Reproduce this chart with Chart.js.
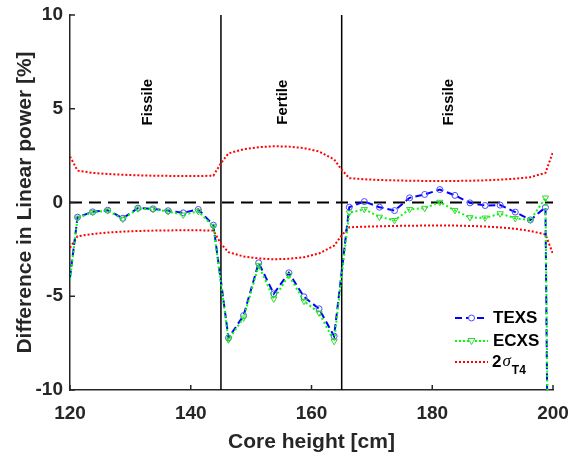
<!DOCTYPE html>
<html>
<head>
<meta charset="utf-8">
<script src="https://cdn.jsdelivr.net/npm/chart.js@4.4.1/dist/chart.umd.min.js"></script>
<style>
    html, body { margin: 0; padding: 0; background: #fff; }
</style>
</head>
<body>
<canvas id="chart" width="571" height="452"></canvas>
<script>
// node positions along the core (boundaries have no marker)
const heightCm = [120, 121.25, 123.75, 126.25, 128.75, 131.25, 133.75, 136.25, 138.75, 141.25, 143.75,
    145, 146.25, 148.75, 151.25, 153.75, 156.25, 158.75, 161.25, 163.75,
    165, 166.25, 168.75, 171.25, 173.75, 176.25, 178.75, 181.25, 183.75, 186.25, 188.75, 191.25, 193.75, 196.25, 198.75, 200];
const boundaryCm = [120, 145, 165, 200];

const texsDiff = [-4.0, -0.78, -0.50, -0.41, -0.84, -0.30, -0.34, -0.44, -0.55, -0.37, -1.21,
    -4.2, -7.22, -6.03, -3.22, -4.87, -3.75, -5.03, -5.67, -7.13,
    -3.7, -0.25, 0.05, -0.25, -0.43, 0.25, 0.43, 0.69, 0.38, -0.02, -0.16, -0.14, -0.51, -0.93, -0.26, -45];
const ecxsDiff = [-4.1, -0.82, -0.52, -0.43, -0.88, -0.33, -0.36, -0.48, -0.66, -0.47, -1.28,
    -4.3, -7.32, -6.15, -3.36, -5.14, -3.88, -5.26, -5.88, -7.40,
    -3.9, -0.55, -0.36, -0.77, -0.95, -0.36, -0.3, 0.02, -0.42, -0.8, -0.82, -0.59, -0.84, -0.94, 0.25, -40];
const sigmaUpper = [2.45, 1.70, 1.58, 1.52, 1.48, 1.45, 1.43, 1.42, 1.41, 1.41, 1.43,
    2.1, 2.62, 2.84, 2.95, 3.0, 2.98, 2.9, 2.72, 2.3,
    1.75, 1.3, 1.24, 1.2, 1.18, 1.16, 1.15, 1.15, 1.15, 1.16, 1.18, 1.22, 1.27, 1.35, 1.58, 2.7];
const sigmaLower = [-2.42, -1.8, -1.68, -1.6, -1.55, -1.52, -1.5, -1.49, -1.48, -1.48, -1.5,
    -2.2, -2.65, -2.88, -2.98, -3.03, -3.0, -2.92, -2.72, -2.3,
    -1.75, -1.32, -1.29, -1.27, -1.25, -1.24, -1.23, -1.23, -1.23, -1.25, -1.28, -1.33, -1.4, -1.52, -1.7, -2.75];

const regionBounds = [120, 145, 165, 200];
const regionNames = ["Fissile", "Fertile", "Fissile"];
const xTicks = [120, 140, 160, 180, 200];
const yTicks = [-10, -5, 0, 5, 10];

const FONT = '"Liberation Sans", Arial, Helvetica, sans-serif';
const INK = "#262626";

function toPoints(ys) {
    return heightCm.map((x, i) => ({ x: x, y: ys[i] }));
}

function markerRadius(size) {
    return (ctx) => boundaryCm.includes(heightCm[ctx.dataIndex]) ? 0 : size;
}

// inward ticks, region labels and the legend
const decorPlugin = {
    id: "decor",
    afterDraw(chart) {
        const { ctx, chartArea } = chart;
        const xs = chart.scales.x;
        const ys = chart.scales.y;

        ctx.save();
        ctx.strokeStyle = INK;
        ctx.lineWidth = 1.5;
        xTicks.forEach((v) => {
            const px = xs.getPixelForValue(v);
            ctx.beginPath();
            ctx.moveTo(px, chartArea.bottom);
            ctx.lineTo(px, chartArea.bottom - 5);
            ctx.stroke();
        });
        yTicks.forEach((v) => {
            const py = ys.getPixelForValue(v);
            ctx.beginPath();
            ctx.moveTo(chartArea.left, py);
            ctx.lineTo(chartArea.left + 5, py);
            ctx.stroke();
        });

        // region names, rotated
        ctx.fillStyle = "#000";
        ctx.font = "bold 15px " + FONT;
        ctx.textAlign = "center";
        ctx.textBaseline = "middle";
        regionNames.forEach((name, i) => {
            const mid = (regionBounds[i] + regionBounds[i + 1]) / 2;
            const px = xs.getPixelForValue(mid) + 2;
            const py = ys.getPixelForValue(5.35);
            ctx.save();
            ctx.translate(px, py);
            ctx.rotate(-Math.PI / 2);
            ctx.fillText(name, 0, 0);
            ctx.restore();
        });

        // legend
        const lx0 = chartArea.right - 98;
        const lx1 = chartArea.right - 65;
        const tx = chartArea.right - 60;
        const rows = [chartArea.bottom - 72, chartArea.bottom - 49, chartArea.bottom - 28];
        const mx = (lx0 + lx1) / 2;

        ctx.lineWidth = 2;
        ctx.strokeStyle = "#0000ff";
        ctx.setLineDash([7, 4]);
        ctx.beginPath(); ctx.moveTo(lx0, rows[0]); ctx.lineTo(lx1, rows[0]); ctx.stroke();
        ctx.strokeStyle = "#00ff00";
        ctx.setLineDash([2, 2]);
        ctx.beginPath(); ctx.moveTo(lx0, rows[1]); ctx.lineTo(lx1, rows[1]); ctx.stroke();
        ctx.strokeStyle = "#ff0000";
        ctx.beginPath(); ctx.moveTo(lx0, rows[2]); ctx.lineTo(lx1, rows[2]); ctx.stroke();
        ctx.setLineDash([]);

        ctx.lineWidth = 1;
        ctx.fillStyle = "#fff";
        ctx.strokeStyle = "#4b4bff";
        ctx.beginPath(); ctx.arc(mx, rows[0], 3, 0, Math.PI * 2); ctx.fill(); ctx.stroke();
        ctx.strokeStyle = "#3ad43a";
        ctx.beginPath();
        ctx.moveTo(mx - 3.5, rows[1] - 2.5);
        ctx.lineTo(mx + 3.5, rows[1] - 2.5);
        ctx.lineTo(mx, rows[1] + 3.5);
        ctx.closePath(); ctx.fill(); ctx.stroke();

        ctx.fillStyle = "#000";
        ctx.textAlign = "left";
        ctx.font = "bold 17px " + FONT;
        ctx.fillText("TEXS", tx, rows[0]);
        ctx.fillText("ECXS", tx, rows[1]);
        ctx.fillText("2", tx - 1, rows[2]);
        const w2 = ctx.measureText("2").width;
        ctx.font = "italic 17px \"Liberation Serif\", serif";
        ctx.fillText("\u03c3", tx - 1 + w2 + 1, rows[2]);
        const ws = ctx.measureText("\u03c3").width;
        ctx.font = "bold 12px " + FONT;
        ctx.fillText("T4", tx - 1 + w2 + 1 + ws + 1, rows[2] + 9);
        ctx.restore();
    }
};

const lineDatasets = [
    {
        label: "ECXS",
        data: toPoints(ecxsDiff),
        borderColor: "#00ff00",
        borderWidth: 2,
        borderDash: [2, 2.5],
        pointStyle: "triangle",
        rotation: 180,
        pointRadius: markerRadius(3.6),
        pointBorderColor: "#3ad43a",
        pointBackgroundColor: "rgba(0,0,0,0)",
        pointBorderWidth: 1,
        order: 1
    },
    {
        label: "TEXS",
        data: toPoints(texsDiff),
        borderColor: "#0000ff",
        borderWidth: 2,
        borderDash: [7, 4],
        pointStyle: "circle",
        pointRadius: markerRadius(3),
        pointBorderColor: "#4b4bff",
        pointBackgroundColor: "rgba(0,0,0,0)",
        pointBorderWidth: 1,
        order: 2
    },
    {
        label: "2sigma upper",
        data: toPoints(sigmaUpper),
        borderColor: "#ff0000",
        borderWidth: 2,
        borderDash: [2, 2],
        pointRadius: 0,
        order: 3
    },
    {
        label: "2sigma lower",
        data: toPoints(sigmaLower),
        borderColor: "#ff0000",
        borderWidth: 2,
        borderDash: [2, 2],
        pointRadius: 0,
        order: 3
    },
    {
        label: "zero",
        data: [{ x: 120, y: 0 }, { x: 200, y: 0 }],
        borderColor: "#000",
        borderWidth: 2,
        borderDash: [12, 7],
        pointRadius: 0,
        order: 4
    }
];

regionBounds.slice(1, 3).forEach((b) => {
    lineDatasets.push({
        label: "bound " + b,
        data: [{ x: b, y: -10 }, { x: b, y: 10 }],
        borderColor: "#000",
        borderWidth: 1.5,
        pointRadius: 0,
        order: 5
    });
});

new Chart(document.getElementById("chart"), {
    type: "line",
    data: { datasets: lineDatasets },
    options: {
        responsive: false,
        animation: false,
        devicePixelRatio: 1,
        layout: { padding: { top: 15, right: 18, left: 0, bottom: 0 } },
        plugins: {
            legend: { display: false },
            tooltip: { enabled: false }
        },
        scales: {
            x: {
                type: "linear",
                min: 120,
                max: 200,
                afterFit: (scale) => {
                    scale.height = 62;
                    scale.paddingLeft = 0;
                    scale.paddingRight = 0;
                },
                afterBuildTicks: (scale) => { scale.ticks = xTicks.map((v) => ({ value: v })); },
                grid: { display: false, drawTicks: false },
                border: { display: true, color: INK, width: 1.5 },
                ticks: {
                    color: INK,
                    padding: 12,
                    maxRotation: 0,
                    font: { family: FONT, size: 19, weight: "bold" }
                },
                title: {
                    display: true,
                    text: "Core height [cm]",
                    color: INK,
                    padding: { top: 0, bottom: 0 },
                    font: { family: FONT, size: 21, weight: "bold", lineHeight: 0.9 }
                }
            },
            y: {
                min: -10,
                max: 10,
                afterFit: (scale) => {
                    scale.width = 70;
                    scale.paddingTop = 0;
                    scale.paddingBottom = 0;
                },
                afterBuildTicks: (scale) => { scale.ticks = yTicks.map((v) => ({ value: v })); },
                grid: { display: false, drawTicks: false },
                border: { display: true, color: INK, width: 1.5 },
                ticks: {
                    color: INK,
                    padding: 7,
                    font: { family: FONT, size: 19, weight: "bold" }
                },
                title: {
                    display: true,
                    text: "Difference in Linear power [%]",
                    color: INK,
                    padding: { top: 13, bottom: 0 },
                    font: { family: FONT, size: 21, weight: "bold" }
                }
            }
        }
    },
    plugins: [decorPlugin]
});
</script>
</body>
</html>
